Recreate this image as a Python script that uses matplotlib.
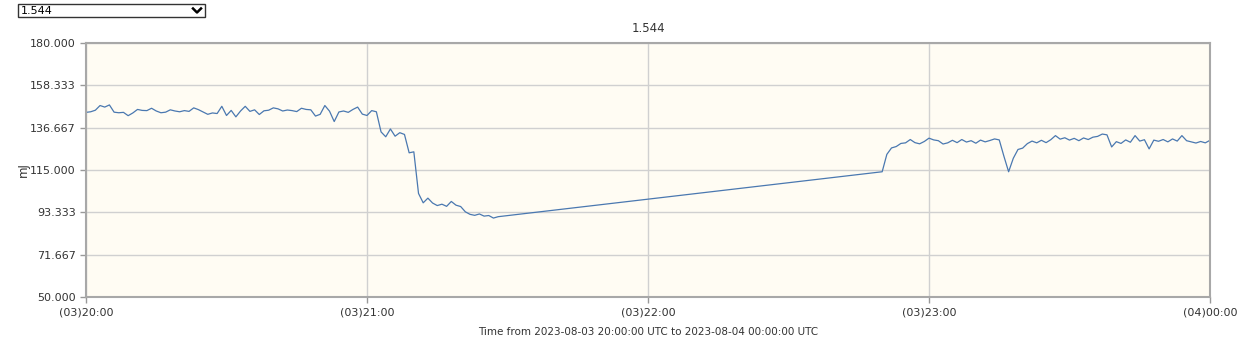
import numpy as np
import matplotlib
matplotlib.use("Agg")
from matplotlib import pyplot as plt
from matplotlib.lines import Line2D
from matplotlib.patches import Rectangle

# energy readings (mJ), one per minute, minutes after 2023-08-03 20:00 UTC
seg1_start = 0
seg1_values = [
    144.5, 144.8, 145.6, 148.0, 147.2, 148.3, 144.6, 144.3, 144.5, 142.8,
    144.2, 146.0, 145.5, 145.4, 146.6, 145.2, 144.3, 144.6, 145.8, 145.2,
    144.8, 145.4, 145.0, 146.8, 145.9, 144.7, 143.5, 144.2, 143.9, 147.6,
    142.9, 145.5, 142.2, 145.2, 147.6, 145.0, 145.8, 143.4, 145.3, 145.6,
    146.8, 146.3, 145.2, 145.7, 145.4, 144.9, 146.6, 146.0, 145.8, 142.6,
    143.5, 148.0, 145.1, 139.8, 144.7, 145.2, 144.5, 146.0, 147.2, 143.6,
    142.9, 145.4, 144.8, 134.5, 132.0, 136.0, 132.3, 134.1, 133.2, 123.8,
    124.3, 103.0, 98.2, 100.6, 98.1, 96.8, 97.5, 96.4, 98.9, 97.0,
    96.3, 93.6, 92.3, 91.8, 92.5, 91.4, 91.7, 90.4, 91.1,
]
seg2_start = 170
seg2_values = [
    114.1, 123.0, 126.3, 127.0, 128.6, 128.9, 130.6, 129.0, 128.4, 129.6,
    131.3, 130.4, 130.0, 128.3, 128.9, 130.2, 129.0, 130.6, 129.3, 130.0,
    128.7, 130.3, 129.4, 130.1, 130.9, 130.4, 122.0, 114.1, 121.0, 125.5,
    126.2, 128.5, 129.8, 128.9, 130.2, 129.0, 130.5, 132.6, 130.8, 131.5,
    130.3, 131.2, 130.0, 131.4, 130.6, 131.8, 132.2, 133.4, 133.0, 126.8,
    129.5, 128.6, 130.4, 129.2, 132.6, 129.8, 130.5, 125.8, 130.3, 129.7,
    130.6, 129.4, 130.9, 129.8, 132.6, 130.0, 129.4, 128.8, 129.6, 128.9,
    130.2,
]

y_ticks = [50.0, 71.667, 93.333, 115.0, 136.667, 158.333, 180.0]
x_ticks = [0, 60, 120, 180, 240]
x_labels = ["(03)20:00", "(03)21:00", "(03)22:00", "(03)23:00", "(04)00:00"]

t = np.concatenate([np.arange(seg1_start, seg1_start + len(seg1_values)),
                    np.arange(seg2_start, seg2_start + len(seg2_values))])
v = np.array(seg1_values + seg2_values)

W, H = 1250, 343
fig = plt.figure(figsize=(W / 100, H / 100), dpi=100)
ax = fig.add_axes([86 / W, 1 - 297 / H, (1210 - 86) / W, (297 - 43) / H])
ax.set_facecolor("#fffcf3")

ax.plot(t, v, color="#4a78b0", linewidth=0.9)

ax.set_xlim(0, 240)
ax.set_ylim(50, 180)
ax.set_yticks(y_ticks)
ax.set_yticklabels([f"{y:.3f}" for y in y_ticks])
ax.set_xticks(x_ticks)
ax.set_xticklabels(x_labels)
ax.grid(True, color="#d0d0d0", linewidth=1)
ax.set_axisbelow(True)
ax.tick_params(colors="#999999", labelcolor="#333333", labelsize=8, length=4, width=1)
for s in ax.spines.values():
    s.set_color("#a8a8a8")
    s.set_linewidth(1.5)

ax.set_title("1.544", fontsize=8.5, color="#333333", pad=8)
ax.set_ylabel("mJ", fontsize=8.5, color="#333333", labelpad=0)
ax.set_xlabel("Time from 2023-08-03 20:00:00 UTC to 2023-08-04 00:00:00 UTC",
              fontsize=7.5, color="#333333", labelpad=7)

# dropdown box at top left
fig.patches.append(Rectangle((18 / W, 1 - 17 / H), 187 / W, 13 / H, transform=fig.transFigure,
                             facecolor="white", edgecolor="#333333", linewidth=1))
fig.text(21 / W, 1 - 10.5 / H, "1.544", fontsize=8, color="black", va="center")
fig.lines.append(Line2D([193 / W, 197 / W, 201 / W], [1 - 8.5 / H, 1 - 12.5 / H, 1 - 8.5 / H],
                        transform=fig.transFigure, color="black", linewidth=1.8))

fig.savefig("out.png", dpi=100)
